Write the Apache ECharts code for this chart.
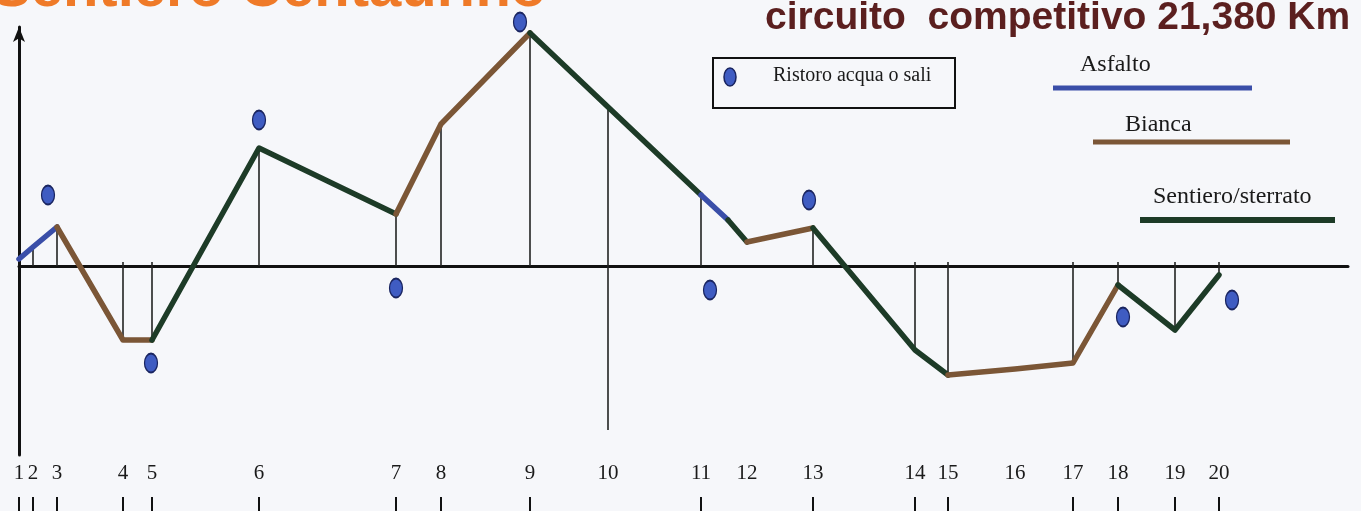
<!DOCTYPE html>
<html lang="it">
<head>
<meta charset="utf-8">
<title>Sentiero Centaurino - circuito competitivo</title>
<script src="https://cdn.jsdelivr.net/npm/echarts@6/dist/echarts.min.js"></script>
<style>
  html, body { margin: 0; padding: 0; background: #f6f7fa; }
  #main { width: 1361px; height: 511px; }
</style>
</head>
<body>
<div id="main"></div>
<script>
// profilo altimetrico (posizione lungo il percorso, quota relativa)
var profileX     = [0, 14, 38, 104, 133, 240, 377, 422, 511, 589, 682, 709, 728, 794, 896, 929, 996, 1054, 1099, 1156, 1200];
var profileElev  = [7, 19, 39, -74, -74, 118, 52, 142, 233, 159, 71, 46, 24, 38, -84, -109, -103, -97, -19, -64, -9];
var profileLabel = ['1','2','3','4','5','6','7','8','9','10','11','','12','13','14','15','16','17','18','19','20'];
// fondo di ogni tratto fra due punti consecutivi
var segmentSurface = ['asfalto','asfalto','bianca','bianca','sentiero','sentiero','bianca','bianca','sentiero','sentiero',
                      'asfalto','sentiero','bianca','sentiero','sentiero','bianca','bianca','bianca','sentiero','sentiero'];
// punti con linea verticale e punti con tacca in basso
var dropLabels = ['2','3','4','5','6','7','8','9','10','11','13','14','15','17','18','19','20'];
var tickLabels = ['1','2','3','4','5','6','7','8','9','11','13','14','15','17','18','19','20'];
var km10LineBottom = -164;
// ristori acqua o sali
var waterX    = [29, 132, 240, 377, 501, 691, 790, 1104, 1213];
var waterElev = [71, -97, 146, -22, 244, -24, 66, -51, -34];

var surfaceColor = { asfalto: '#3a4ea8', bianca: '#7b5636', sentiero: '#1d3b27' };

var myChart = echarts.init(document.getElementById('main'));

function idxOf(label) { return profileLabel.indexOf(label); }

// raggruppa i tratti consecutivi con lo stesso fondo
var runs = [];
for (var i = 0; i < segmentSurface.length; i++) {
    var p0 = [profileX[i], profileElev[i]], p1 = [profileX[i + 1], profileElev[i + 1]];
    var last = runs[runs.length - 1];
    if (last && last.surface === segmentSurface[i]) {
        last.coords.push(p1);
    } else {
        runs.push({ surface: segmentSurface[i], coords: [p0, p1] });
    }
}
var profileRuns = runs.map(function (r) {
    return { coords: r.coords, lineStyle: { color: surfaceColor[r.surface] } };
});

var dropLines = dropLabels.map(function (lab) {
    var k = idxOf(lab);
    var x = profileX[k], y = profileElev[k];
    var from = y < 0 ? 4 : 0;
    if (lab === '10') from = km10LineBottom;
    return { coords: [[x, from], [x, y]] };
});

var labelByX = {};
var labelValues = [];
profileLabel.forEach(function (lab, k) {
    if (lab) { labelByX[profileX[k]] = lab; labelValues.push(profileX[k]); }
});
var tickValues = tickLabels.map(function (lab) { return profileX[idxOf(lab)]; });

var waterData = waterX.map(function (x, k) { return [x, waterElev[k]]; });

var option = {
    backgroundColor: '#f6f7fa',
    animation: false,
    grid: { left: 19, right: 13, top: 27, bottom: 56 },
    xAxis: [
        {
            type: 'value', min: 0, max: 1329,
            axisLine: { onZero: true, lineStyle: { color: '#111', width: 3 } },
            axisTick: { show: false }, axisLabel: { show: false }, splitLine: { show: false }
        },
        {
            type: 'value', min: 0, max: 1329, position: 'bottom',
            axisLine: { show: false }, axisTick: { show: false }, splitLine: { show: false },
            axisLabel: {
                customValues: labelValues,
                margin: 8,
                fontFamily: 'Liberation Serif', fontSize: 21, color: '#1a1a1a',
                formatter: function (v) { return labelByX[v] || ''; }
            }
        },
        {
            type: 'value', min: 0, max: 1329, position: 'bottom', offset: 42,
            axisLine: { show: false }, axisLabel: { show: false }, splitLine: { show: false },
            axisTick: { show: true, customValues: tickValues, length: 14, lineStyle: { color: '#111', width: 2 } }
        }
    ],
    yAxis: {
        type: 'value', min: -189, max: 239,
        axisLine: {
            show: true, onZero: false,
            symbol: ['none', 'arrow'], symbolSize: [9, 15],
            lineStyle: { color: '#111', width: 3 }
        },
        axisTick: { show: false }, axisLabel: { show: false }, splitLine: { show: false }
    },
    series: [
        {
            name: 'verticali', type: 'lines', coordinateSystem: 'cartesian2d',
            silent: true, z: 2,
            lineStyle: { color: '#222', width: 1.6, opacity: 1 },
            data: dropLines
        },
        {
            name: 'profilo', type: 'lines', coordinateSystem: 'cartesian2d', polyline: true,
            silent: true, z: 3,
            lineStyle: { width: 5.5, opacity: 1, cap: 'round', join: 'round' },
            data: profileRuns
        },
        {
            name: 'Ristoro acqua o sali', type: 'scatter', clip: false, z: 4,
            symbol: 'circle', symbolSize: [13, 19],
            itemStyle: { color: '#3f5cc2', borderColor: '#1a2560', borderWidth: 1.5, opacity: 1 },
            data: waterData
        }
    ],
    graphic: [
        {
            type: 'text', x: -8, y: -10,
            style: { text: 'Sentiero Centaurino', font: 'bold 58px "Liberation Sans"', fill: '#ef7a28', verticalAlign: 'middle' }
        },
        {
            type: 'text', x: 765, y: 18,
            style: { text: 'circuito  competitivo 21,380 Km', font: 'bold 39px "Liberation Sans"', fill: '#5b1f1f', verticalAlign: 'middle' }
        },
        // legenda ristoro
        { type: 'rect', shape: { x: 713, y: 58, width: 242, height: 50 }, style: { fill: 'none', stroke: '#111', lineWidth: 2 } },
        { type: 'ellipse', shape: { cx: 730, cy: 77, rx: 6, ry: 9 }, style: { fill: '#3f5cc2', stroke: '#1a2560', lineWidth: 1.5 } },
        { type: 'text', x: 773, y: 76, style: { text: 'Ristoro acqua o sali', font: '20px "Liberation Serif"', fill: '#1a1a1a', verticalAlign: 'middle' } },
        // legenda fondo
        { type: 'text', x: 1080, y: 65, style: { text: 'Asfalto', font: '24px "Liberation Serif"', fill: '#1a1a1a', verticalAlign: 'middle' } },
        { type: 'line', shape: { x1: 1053, y1: 88, x2: 1252, y2: 88 }, style: { stroke: surfaceColor.asfalto, lineWidth: 5 } },
        { type: 'text', x: 1125, y: 125, style: { text: 'Bianca', font: '24px "Liberation Serif"', fill: '#1a1a1a', verticalAlign: 'middle' } },
        { type: 'line', shape: { x1: 1093, y1: 142, x2: 1290, y2: 142 }, style: { stroke: surfaceColor.bianca, lineWidth: 5 } },
        { type: 'text', x: 1153, y: 197, style: { text: 'Sentiero/sterrato', font: '24px "Liberation Serif"', fill: '#1a1a1a', verticalAlign: 'middle' } },
        { type: 'line', shape: { x1: 1140, y1: 220, x2: 1335, y2: 220 }, style: { stroke: surfaceColor.sentiero, lineWidth: 6 } }
    ]
};

myChart.setOption(option);
</script>
</body>
</html>
